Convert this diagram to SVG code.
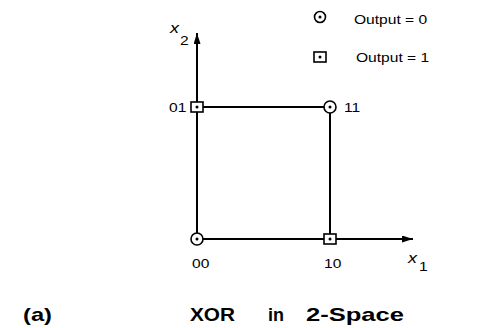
<svg xmlns="http://www.w3.org/2000/svg" width="496" height="328" viewBox="0 0 496 328">
<style>
.t{font-family:"Liberation Sans",Arial,sans-serif;font-size:13px;fill:#000}
.i{font-family:"Liberation Sans",Arial,sans-serif;font-size:15px;font-style:italic;fill:#000}
.b{font-family:"Liberation Sans",Arial,sans-serif;font-size:19px;font-weight:bold;fill:#000}
.ln{stroke:#000;stroke-width:2;fill:none}
.c{fill:#fff;stroke:#000;stroke-width:1.6}
</style>
<defs>
<marker id="ah" markerWidth="11" markerHeight="7" refX="11" refY="3.5" orient="auto" markerUnits="userSpaceOnUse">
<path d="M0,0 L11,3.5 L0,7 Z" fill="#000"/>
</marker>
</defs>
<g id="connectors">
<line class="ln" x1="197" y1="239" x2="197" y2="33" marker-end="url(#ah)"/>
<line class="ln" x1="197" y1="239" x2="413" y2="239" marker-end="url(#ah)"/>
<line class="ln" x1="197" y1="107" x2="330" y2="107"/>
<line class="ln" x1="330" y1="107" x2="330" y2="239"/>
</g>
<g id="n00">
<circle class="c" cx="197" cy="239" r="6"/>
<circle cx="197" cy="239" r="1.5"/>
<text class="t" transform="translate(192,268) scale(1.2,1)">00</text>
</g>
<g id="n10">
<rect class="c" x="324" y="234" width="12" height="10"/>
<circle cx="330" cy="239" r="1.5"/>
<text class="t" transform="translate(324,268) scale(1.2,1)">10</text>
</g>
<g id="n01">
<rect class="c" x="191" y="102" width="12" height="10"/>
<circle cx="197" cy="107" r="1.5"/>
<text class="t" transform="translate(169,112) scale(1.2,1)">01</text>
</g>
<g id="n11">
<circle class="c" cx="330" cy="107" r="6"/>
<circle cx="330" cy="107" r="1.5"/>
<text class="t" transform="translate(344,112) scale(1.2,1)">11</text>
</g>
<g id="axis-labels">
<text class="i" transform="translate(170,33) scale(1.2,1)">x</text>
<text class="t" transform="translate(180,45) scale(1.2,1)">2</text>
<text class="i" transform="translate(408,263) scale(1.2,1)">x</text>
<text class="t" transform="translate(419,271) scale(1.2,1)">1</text>
</g>
<g id="legend">
<circle class="c" cx="320" cy="17" r="5.5"/>
<circle cx="320" cy="17" r="1.5"/>
<text class="t" transform="translate(354,24) scale(1.2,1)">Output = 0</text>
<rect class="c" x="314" y="52" width="12" height="10"/>
<circle cx="320" cy="57" r="1.5"/>
<text class="t" transform="translate(356,62) scale(1.2,1)">Output = 1</text>
</g>
<g id="caption">
<text class="b" x="23" y="321" textLength="29" lengthAdjust="spacingAndGlyphs">(a)</text>
<text class="b" x="190" y="321" textLength="45" lengthAdjust="spacingAndGlyphs">XOR</text>
<text class="b" x="268" y="321" textLength="16" lengthAdjust="spacingAndGlyphs">in</text>
<text class="b" x="306" y="321" textLength="98" lengthAdjust="spacingAndGlyphs">2-Space</text>
</g>
</svg>
